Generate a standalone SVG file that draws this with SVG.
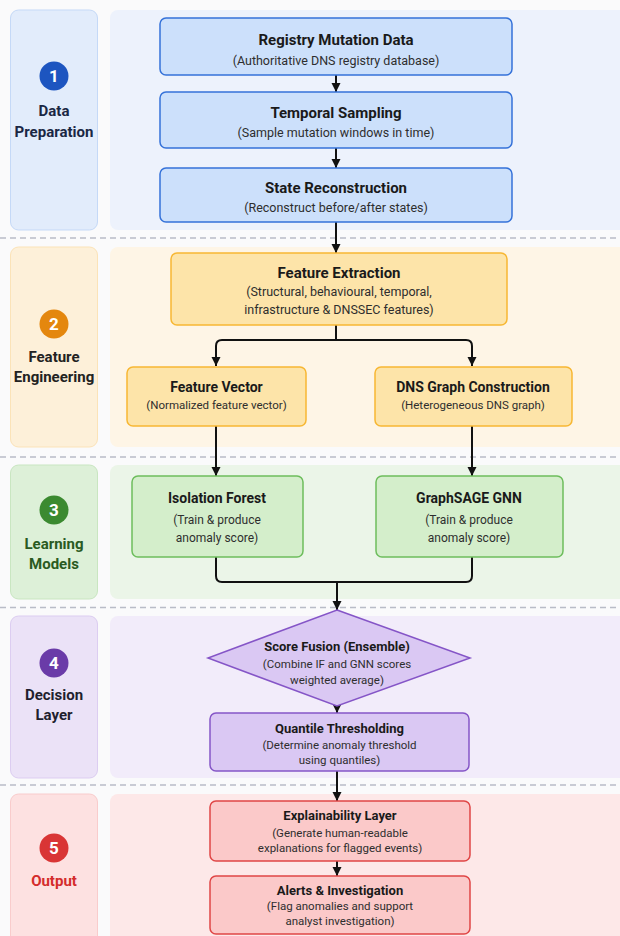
<svg xmlns="http://www.w3.org/2000/svg" width="620" height="936" viewBox="0 0 620 936">
  <style>
    text { font-family: Roboto, "Liberation Sans", Arial, sans-serif; text-anchor: middle; }
    .t { font-weight: 700; fill: #1a1a1a; }
    .s { fill: #2e2e2e; }
    .lab { font-weight: 700; font-size: 15px; }
    .num { font-weight: 700; font-size: 17px; fill: #ffffff; }
    .sep { stroke: #b9bcc7; stroke-width: 1.5; stroke-dasharray: 6 4; fill: none; }
    .edge { stroke: #111111; stroke-width: 2; fill: none; }
    .n1 { fill: #cce0fb; stroke: #3572d9; stroke-width: 1.5; }
    .n2 { fill: #fde4a9; stroke: #f7b733; stroke-width: 1.5; }
    .n3 { fill: #d4eecb; stroke: #6dbd5c; stroke-width: 1.5; }
    .n4 { fill: #dac8f3; stroke: #8555c7; stroke-width: 1.5; }
    .n5 { fill: #fbc9c9; stroke: #e04646; stroke-width: 1.5; }
  </style>
  <defs>
    <marker id="arrow" viewBox="0 0 10 10" refX="10" refY="5" markerWidth="9" markerHeight="10" markerUnits="userSpaceOnUse" orient="auto">
      <path d="M0,0 L10,5 L0,10 z" fill="#111111"/>
    </marker>
  </defs>

  <rect width="620" height="936" fill="#fafafb"/>

  <!-- Section backgrounds and stage labels -->
  <g id="stage1">
    <rect x="10.5" y="10" width="87" height="220" rx="8" fill="#e2ecfb" stroke="#c5d9f7"/>
    <rect x="110" y="10" width="520" height="220" rx="8" fill="#edf2fc"/>
    <circle cx="54" cy="76" r="14.5" fill="#1d55c0"/>
    <text class="num" x="54" y="82">1</text>
    <text class="lab" x="54" y="115.5" fill="#1a2744">Data</text>
    <text class="lab" x="54" y="137" fill="#1a2744">Preparation</text>
  </g>
  <line class="sep" x1="0" y1="238" x2="620" y2="238"/>

  <g id="stage2">
    <rect x="10.5" y="247" width="87" height="200" rx="8" fill="#fdf0d9" stroke="#fbe3b8"/>
    <rect x="110" y="247" width="520" height="200" rx="8" fill="#fef5e6"/>
    <circle cx="54" cy="324" r="14.5" fill="#e4870e"/>
    <text class="num" x="54" y="330">2</text>
    <text class="lab" x="54" y="362" fill="#222222">Feature</text>
    <text class="lab" x="54" y="382" fill="#222222">Engineering</text>
  </g>
  <line class="sep" x1="0" y1="457" x2="620" y2="457"/>

  <g id="stage3">
    <rect x="10.5" y="465" width="87" height="134" rx="8" fill="#ddf0d8" stroke="#c9e6c1"/>
    <rect x="110" y="465" width="520" height="134" rx="8" fill="#ebf5e8"/>
    <circle cx="54" cy="510" r="14.5" fill="#3b8a30"/>
    <text class="num" x="54" y="516">3</text>
    <text class="lab" x="54" y="548.5" fill="#2a5a22">Learning</text>
    <text class="lab" x="54" y="568.5" fill="#2a5a22">Models</text>
  </g>
  <line class="sep" x1="0" y1="607.5" x2="620" y2="607.5"/>

  <g id="stage4">
    <rect x="10.5" y="616" width="87" height="162" rx="8" fill="#ebe2f7" stroke="#dccdf1"/>
    <rect x="110" y="616" width="520" height="162" rx="8" fill="#f2ecfa"/>
    <circle cx="54" cy="663" r="14.5" fill="#6a3ba8"/>
    <text class="num" x="54" y="669">4</text>
    <text class="lab" x="54" y="699.5" fill="#1f1f2e">Decision</text>
    <text class="lab" x="54" y="720" fill="#1f1f2e">Layer</text>
  </g>
  <line class="sep" x1="0" y1="785" x2="620" y2="785"/>

  <g id="stage5">
    <rect x="10.5" y="794" width="87" height="160" rx="8" fill="#fde1e1" stroke="#f9cccc"/>
    <rect x="110" y="794" width="520" height="160" rx="8" fill="#fde8e8"/>
    <circle cx="54" cy="848" r="14.5" fill="#d93535"/>
    <text class="num" x="54" y="854">5</text>
    <text class="lab" x="54" y="885.5" fill="#d42c2c">Output</text>
  </g>

  <!-- Connectors -->
  <g id="connectors">
    <path class="edge" d="M336,75 V92" marker-end="url(#arrow)"/>
    <path class="edge" d="M336,148 V168" marker-end="url(#arrow)"/>
    <path class="edge" d="M336,222 V253" marker-end="url(#arrow)"/>
    <path class="edge" d="M336,325 V340 H222 Q216,340 216,346 V366" marker-end="url(#arrow)"/>
    <path class="edge" d="M336,340 H466 Q472,340 472,346 V366" marker-end="url(#arrow)"/>
    <path class="edge" d="M216,426 V476" marker-end="url(#arrow)"/>
    <path class="edge" d="M472,426 V476" marker-end="url(#arrow)"/>
    <path class="edge" d="M216,557 V576 Q216,582 222,582 H466 Q472,582 472,576 V557"/>
    <path class="edge" d="M337,582 V610" marker-end="url(#arrow)"/>
    <path class="edge" d="M337,700 V713" marker-end="url(#arrow)"/>
    <path class="edge" d="M337,771 V801" marker-end="url(#arrow)"/>
    <path class="edge" d="M337,861 V876" marker-end="url(#arrow)"/>
  </g>

  <!-- Nodes -->
  <g id="registry-mutation-data">
    <rect class="n1" x="160" y="18" width="352" height="57" rx="6"/>
    <text class="t" x="336" y="44.5" font-size="15">Registry Mutation Data</text>
    <text class="s" x="336" y="64.5" font-size="12.5">(Authoritative DNS registry database)</text>
  </g>
  <g id="temporal-sampling">
    <rect class="n1" x="160" y="92" width="352" height="56" rx="6"/>
    <text class="t" x="336" y="118" font-size="15">Temporal Sampling</text>
    <text class="s" x="336" y="136.5" font-size="12.5">(Sample mutation windows in time)</text>
  </g>
  <g id="state-reconstruction">
    <rect class="n1" x="160" y="168" width="352" height="54" rx="6"/>
    <text class="t" x="336" y="192.5" font-size="15">State Reconstruction</text>
    <text class="s" x="336" y="211.5" font-size="12.5">(Reconstruct before/after states)</text>
  </g>

  <g id="feature-extraction">
    <rect class="n2" x="171" y="253" width="336" height="72" rx="6"/>
    <text class="t" x="339" y="278" font-size="15">Feature Extraction</text>
    <text class="s" x="339" y="295.5" font-size="12.5">(Structural, behavioural, temporal,</text>
    <text class="s" x="339" y="313.5" font-size="12.5">infrastructure &amp; DNSSEC features)</text>
  </g>
  <g id="feature-vector">
    <rect class="n2" x="127" y="367" width="179" height="59" rx="6"/>
    <text class="t" x="216.5" y="391.5" font-size="14">Feature Vector</text>
    <text class="s" x="216.5" y="409" font-size="11.5">(Normalized feature vector)</text>
  </g>
  <g id="dns-graph-construction">
    <rect class="n2" x="375" y="367" width="197" height="59" rx="6"/>
    <text class="t" x="473" y="391.5" font-size="14">DNS Graph Construction</text>
    <text class="s" x="473" y="409" font-size="11.5">(Heterogeneous DNS graph)</text>
  </g>

  <g id="isolation-forest">
    <rect class="n3" x="132" y="476" width="171" height="81" rx="6"/>
    <text class="t" x="217" y="503" font-size="14">Isolation Forest</text>
    <text class="s" x="217" y="523.5" font-size="12">(Train &amp; produce</text>
    <text class="s" x="217" y="542" font-size="12">anomaly score)</text>
  </g>
  <g id="graphsage-gnn">
    <rect class="n3" x="376" y="476" width="187" height="81" rx="6"/>
    <text class="t" x="469" y="503" font-size="14">GraphSAGE GNN</text>
    <text class="s" x="469" y="523.5" font-size="12">(Train &amp; produce</text>
    <text class="s" x="469" y="542" font-size="12">anomaly score)</text>
  </g>

  <g id="score-fusion">
    <polygon class="n4" points="337,610 470,658 337,706 208,658"/>
    <text class="t" x="337" y="651" font-size="13">Score Fusion (Ensemble)</text>
    <text class="s" x="337" y="667.5" font-size="11.5">(Combine IF and GNN scores</text>
    <text class="s" x="337" y="684" font-size="11.5">weighted average)</text>
  </g>
  <g id="quantile-thresholding">
    <rect class="n4" x="210" y="713" width="259" height="58" rx="6"/>
    <text class="t" x="339.5" y="733" font-size="13">Quantile Thresholding</text>
    <text class="s" x="339.5" y="748.5" font-size="11.5">(Determine anomaly threshold</text>
    <text class="s" x="339.5" y="764" font-size="11.5">using quantiles)</text>
  </g>

  <g id="explainability-layer">
    <rect class="n5" x="210" y="801" width="260" height="60" rx="6"/>
    <text class="t" x="340" y="819.5" font-size="13">Explainability Layer</text>
    <text class="s" x="340" y="837" font-size="11.5">(Generate human-readable</text>
    <text class="s" x="340" y="852" font-size="11.5">explanations for flagged events)</text>
  </g>
  <g id="alerts-investigation">
    <rect class="n5" x="210" y="876" width="260" height="58" rx="6"/>
    <text class="t" x="340" y="894.5" font-size="13">Alerts &amp; Investigation</text>
    <text class="s" x="340" y="910" font-size="11.5">(Flag anomalies and support</text>
    <text class="s" x="340" y="925" font-size="11.5">analyst investigation)</text>
  </g>
</svg>
